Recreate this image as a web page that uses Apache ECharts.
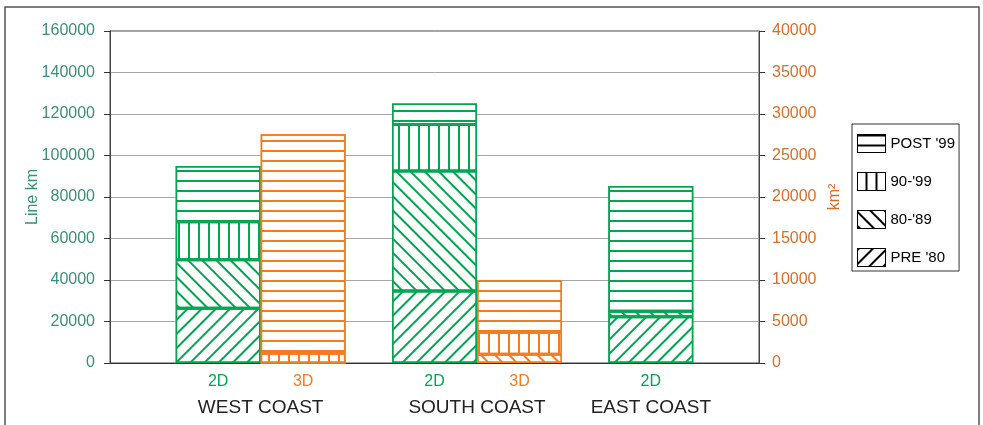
<!DOCTYPE html>
<html>
<head>
<meta charset="utf-8">
<script src="https://cdn.jsdelivr.net/npm/echarts@6/dist/echarts.min.js"></script>
<style>
  html, body { margin: 0; padding: 0; background: #fff; }
  #chart { width: 983px; height: 425px; }
</style>
</head>
<body>
<div id="chart"></div>
<script>
// categories and period names
var categories = ['WEST COAST', 'SOUTH COAST', 'EAST COAST'];
var periodNames = ["PRE '80", "80-'89", "90-'99", "POST '99"];

// 2D surveys, line km (left axis)
var lineKmPre80 = [26400, 34700, 22300];
var lineKm80s = [23300, 57800, 2700];
var lineKm90s = [18400, 22500, 0];
var lineKmPost99 = [26900, 10100, 60300];

// 3D surveys, km2 (right axis)
var area80s = [0, 1050, null];
var area90s = [1170, 2650, null];
var areaPost99 = [26400, 6300, null];

// labels under the bars
var labels2D = ['2D', '2D', '2D'];
var labels3D = ['3D', '3D', null];

// axis ticks
var lineKmMax = 160000, lineKmStep = 20000;
var areaMax = 40000, areaStep = 5000;

var green = '#00a651';
var orange = '#f47b20';
var font = 'Liberation Sans';

function hatch(color, rot) {
  return {
    symbol: 'rect',
    symbolSize: 1,
    dashArrayX: [1, 0],
    dashArrayY: [2, 8],
    rotation: rot,
    color: color
  };
}
var rots = [-Math.PI / 4, Math.PI / 4, Math.PI / 2, 0];

function seg(name, data, stack, color, rot, yIdx) {
  return {
    name: name,
    type: 'bar',
    stack: stack,
    yAxisIndex: yIdx,
    barWidth: 85,
    barGap: '0%',
    data: data,
    itemStyle: {
      color: '#fff',
      borderColor: color,
      borderWidth: 1.5,
      decal: hatch(color, rot)
    }
  };
}

function labelCarrier(labels, stack, color, yIdx) {
  return {
    name: stack + '-label',
    type: 'bar',
    stack: stack,
    yAxisIndex: yIdx,
    barWidth: 85,
    barGap: '0%',
    data: labels.map(function (l) { return l == null ? null : 0; }),
    itemStyle: { color: 'transparent', borderWidth: 0 },
    label: {
      show: true,
      position: 'bottom',
      distance: 11,
      fontFamily: font,
      fontSize: 16,
      color: color,
      formatter: function (p) { return labels[p.dataIndex]; }
    }
  };
}

function plain(v) { return String(v); }

var myChart = echarts.init(document.getElementById('chart'));

var series = [
  // empty slot on the left so the 2D bar sits on the category centre
  { name: 'pad', type: 'bar', stack: 'pad', barWidth: 85, barGap: '0%', data: [null, null, null] },
  labelCarrier(labels2D, '2D', green, 0),
  seg(periodNames[0], lineKmPre80, '2D', green, rots[0], 0),
  seg(periodNames[1], lineKm80s, '2D', green, rots[1], 0),
  seg(periodNames[2], lineKm90s, '2D', green, rots[2], 0),
  seg(periodNames[3], lineKmPost99, '2D', green, rots[3], 0),
  labelCarrier(labels3D, '3D', orange, 1),
  seg(periodNames[1], area80s, '3D', orange, rots[1], 1),
  seg(periodNames[2], area90s, '3D', orange, rots[2], 1),
  seg(periodNames[3], areaPost99, '3D', orange, rots[3], 1)
];

var legendData = [3, 2, 1, 0].map(function (i) {
  return {
    name: periodNames[i],
    itemStyle: {
      color: '#fff',
      borderColor: '#000',
      borderWidth: 1,
      decal: hatch('#000', rots[i])
    }
  };
});

var option = {
  animation: false,
  graphic: [{
    type: 'rect',
    shape: { x: 5, y: 7, width: 974, height: 440 },
    style: { fill: 'none', stroke: '#555', lineWidth: 1.5 },
    silent: true
  }],
  grid: {
    left: 110, right: 224, top: 31, bottom: 62,
    show: true, borderColor: '#444', borderWidth: 1
  },
  legend: {
    orient: 'vertical',
    left: 852, top: 124,
    icon: 'rect',
    itemWidth: 28, itemHeight: 18, itemGap: 19,
    padding: [10, 4, 4, 5],
    borderColor: '#333', borderWidth: 1,
    selectedMode: false,
    textStyle: { fontFamily: font, fontSize: 15, color: '#000' },
    data: legendData
  },
  xAxis: {
    type: 'category',
    data: categories,
    axisLine: { show: true, lineStyle: { color: '#333' } },
    axisTick: { show: false },
    axisLabel: {
      interval: 0,
      margin: 35,
      formatter: function (v, i) {
        return labels3D[i] != null ? '{pair|' + v + '}' : '{single|' + v + '}';
      },
      rich: {
        pair: { padding: [0, 0, 0, 85], fontFamily: font, fontSize: 19, color: '#222' },
        single: { fontFamily: font, fontSize: 19, color: '#222' }
      }
    }
  },
  yAxis: [
    {
      type: 'value',
      min: 0, max: lineKmMax, interval: lineKmStep,
      name: 'Line km',
      nameLocation: 'middle',
      nameGap: 69,
      nameMoveOverlap: false,
      nameTextStyle: { fontFamily: font, fontSize: 16, color: '#3b8f79' },
      axisLine: { show: true, lineStyle: { color: '#444' } },
      axisTick: { show: true, length: 6, lineStyle: { color: '#333' } },
      axisLabel: { margin: 15, fontFamily: font, fontSize: 16, color: '#3b8f79', formatter: plain },
      splitLine: { show: true, lineStyle: { color: '#a6a6a6', width: 1 } }
    },
    {
      type: 'value',
      position: 'right',
      min: 0, max: areaMax, interval: areaStep,
      name: 'km²',
      nameLocation: 'middle',
      nameRotate: 90,
      nameGap: 68,
      nameMoveOverlap: false,
      nameTextStyle: { fontFamily: font, fontSize: 16, color: '#d56f2a' },
      axisLine: { show: true, lineStyle: { color: '#444' } },
      axisTick: { show: true, length: 6, lineStyle: { color: '#333' } },
      axisLabel: { margin: 13, fontFamily: font, fontSize: 16, color: '#d56f2a', formatter: plain },
      splitLine: { show: false }
    }
  ],
  series: series
};

myChart.setOption(option);
window.onresize = function () { myChart.resize(); };
</script>
</body>
</html>
